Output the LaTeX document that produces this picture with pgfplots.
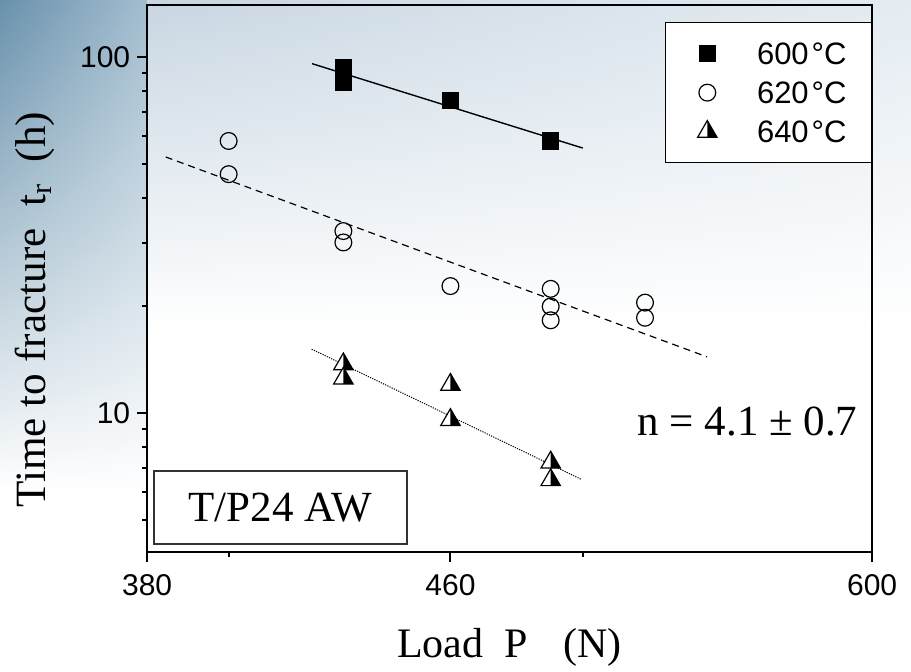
\documentclass[border=0pt]{standalone}
\usepackage{fontspec}
\setmainfont{Liberation Serif}
\setsansfont{Liberation Sans}
\usepackage{pgfplots}
\pgfplotsset{compat=1.18}
\usetikzlibrary{shadings}

\definecolor{bgdark}{RGB}{105,145,172}
\definecolor{bgmid}{RGB}{162,189,207}
\definecolor{bgtopl}{RGB}{200,214,226}
\definecolor{bgtopr}{RGB}{228,236,242}

% triangle, left half white, right half black
\pgfdeclareplotmark{halftri}{%
  \pgfsetfillcolor{white}%
  \pgfpathmoveto{\pgfqpoint{0pt}{\pgfplotmarksize}}%
  \pgfpathlineto{\pgfqpoint{-0.866\pgfplotmarksize}{-0.5\pgfplotmarksize}}%
  \pgfpathlineto{\pgfqpoint{0.866\pgfplotmarksize}{-0.5\pgfplotmarksize}}%
  \pgfpathclose
  \pgfusepathqfill
  \pgfsetfillcolor{black}%
  \pgfpathmoveto{\pgfqpoint{0pt}{\pgfplotmarksize}}%
  \pgfpathlineto{\pgfqpoint{0.866\pgfplotmarksize}{-0.5\pgfplotmarksize}}%
  \pgfpathlineto{\pgfqpoint{0pt}{-0.5\pgfplotmarksize}}%
  \pgfpathclose
  \pgfusepathqfill
  \pgfpathmoveto{\pgfqpoint{0pt}{\pgfplotmarksize}}%
  \pgfpathlineto{\pgfqpoint{-0.866\pgfplotmarksize}{-0.5\pgfplotmarksize}}%
  \pgfpathlineto{\pgfqpoint{0.866\pgfplotmarksize}{-0.5\pgfplotmarksize}}%
  \pgfpathclose
  \pgfusepathqstroke
}

\begin{document}
\begin{tikzpicture}
% slide background
\fill[white] (0pt,0pt) rectangle (455.5pt,336pt);
\shade[upper left=bgdark, upper right=bgmid, lower left=white, lower right=white]
  (0pt,90pt) rectangle (73.5pt,336pt);
\shade[upper left=bgtopl, upper right=bgtopr, lower left=white, lower right=white]
  (73.5pt,171pt) rectangle (455.5pt,336pt);

\begin{axis}[
  at={(73.5pt,60pt)}, anchor=south west,
  scale only axis,
  width=362.5pt, height=273.5pt,
  xmode=log, ymode=log,
  xmin=380, xmax=600,
  ymin=4.07, ymax=139.7,
  xtick={380,460,600}, xticklabels={380,460,600},
  minor xtick={400,500},
  ytick={10,100}, yticklabels={10,100},
  minor ytick={5,6,7,8,9,20,30,40,50,60,70,80,90},
  tick pos=left, tick align=outside,
  major tick length=5pt, minor tick length=2.5pt,
  major tick style={black, line width=1pt},
  minor tick style={black, line width=1pt},
  axis line style={line width=1pt},
  ticklabel style={font=\sffamily\fontsize{15pt}{18pt}\selectfont},
  xticklabel style={yshift=-3pt},
  xlabel={Load\hspace{0.5em}P\hspace{0.85em}(N)},
  ylabel={Time to fracture\hspace{0.5em}t\textsubscript{r}\hspace{0.5em}(h)},
  every axis x label/.style={at={(rel axis cs:0.5,-0.193)}, anchor=base,
    font=\fontsize{21pt}{24pt}\selectfont},
  every axis y label/.style={at={(rel axis cs:-0.1407,0.443)}, anchor=base, rotate=90,
    font=\fontsize{21.6pt}{24pt}\selectfont},
  legend style={at={(1,0.969)}, anchor=north east, draw=black, line width=0.6pt,
    fill=white, font=\sffamily\fontsize{15.5pt}{18pt}\selectfont,
    inner xsep=12.5pt, inner ysep=10pt, row sep=8.4pt,
    nodes={inner sep=0pt, text height=11.1pt, text depth=0pt},
    /tikz/every odd column/.append style={column sep=20pt}},
  legend cell align=left,
  legend image code/.code={\path[draw=none] (-8.5pt,0pt) -- (0pt,0pt);
    \draw[#1] plot coordinates {(0pt,0pt)};},
]
\addplot[only marks, mark=square*, mark size=4.1pt, black]
  coordinates {(430,93.0) (430,84.9) (460,75.3) (490,58.0)};
\addlegendentry{600\kern1.5pt°C}
\addplot[only marks, mark=o, mark size=4.2pt, black, mark options={line width=0.6pt}]
  coordinates {(400,58.0) (400,46.8) (430,32.4) (430,30.1) (460,22.7)
               (490,22.3) (490,19.9) (490,18.2) (520,20.4) (520,18.5)};
\addlegendentry{620\kern1.5pt°C}
\addplot[only marks, mark=halftri, mark size=5.6pt, black, mark options={line width=0.6pt}]
  coordinates {(430,13.7) (430,12.5) (460,12.0) (460,9.56) (490,7.26) (490,6.48)};
\addlegendentry{640\kern1.5pt°C}

% fitted lines
\addplot[forget plot, black, line width=0.7pt] coordinates {(421.6,95.6) (500,55.4)};
\addplot[forget plot, black, line width=0.6pt, dash pattern=on 3.5pt off 2.5pt]
  coordinates {(384.5,52.3) (540.7,14.37)};
\addplot[forget plot, black, line width=0.5pt, dash pattern=on 0.6pt off 0.6pt]
  coordinates {(421.5,15.1) (499.5,6.51)};

\node[font=\fontsize{21.5pt}{24pt}\selectfont] at (rel axis cs:0.828,0.238)
  {n = 4.1 ± 0.7};
\node[draw=black!80, line width=0.6pt, fill=white, minimum width=126.5pt,
  minimum height=36.5pt, inner sep=0pt, font=\fontsize{21.5pt}{24pt}\selectfont]
  at (rel axis cs:0.184,0.0814) {T/P24 AW};
\end{axis}
\pgfresetboundingbox
\path[use as bounding box] (0pt,0pt) rectangle (455.5pt,336pt);
\end{tikzpicture}
\end{document}
